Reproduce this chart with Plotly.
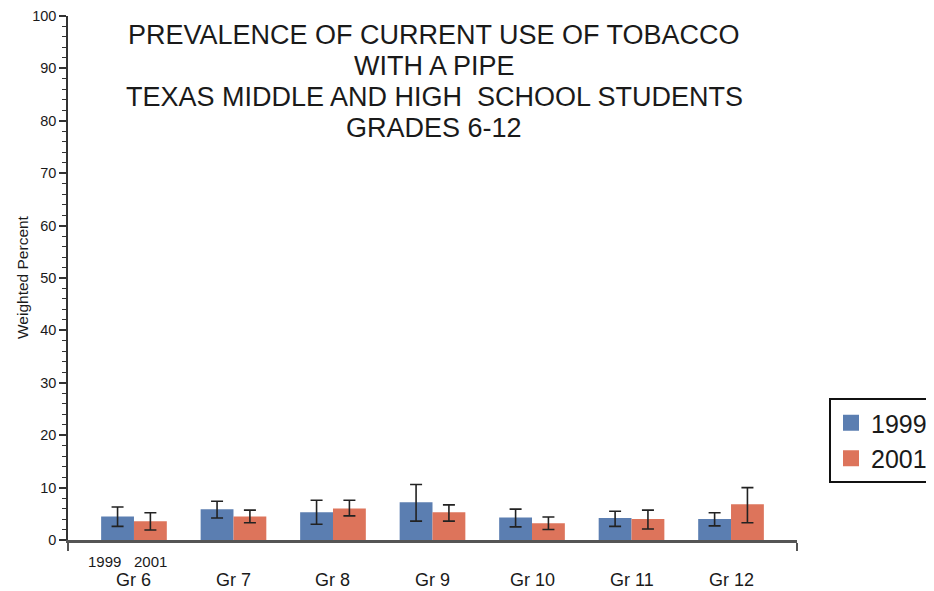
import plotly.graph_objects as go

grades = ["Gr 6", "Gr 7", "Gr 8", "Gr 9", "Gr 10", "Gr 11", "Gr 12"]
years = ["1999", "2001"]

val_1999 = [4.5, 5.85, 5.3, 7.2, 4.3, 4.2, 4.0]
hi_1999 = [6.3, 7.4, 7.6, 10.6, 5.9, 5.5, 5.2]
lo_1999 = [2.6, 4.2, 3.0, 3.6, 2.5, 2.6, 2.7]

val_2001 = [3.6, 4.5, 6.0, 5.3, 3.2, 4.0, 6.8]
hi_2001 = [5.2, 5.7, 7.6, 6.7, 4.4, 5.7, 10.0]
lo_2001 = [1.9, 3.3, 4.6, 3.6, 2.0, 2.1, 3.3]

title_lines = [
    "PREVALENCE OF CURRENT USE OF TOBACCO",
    "WITH A PIPE",
    "TEXAS MIDDLE AND HIGH  SCHOOL STUDENTS",
    "GRADES 6-12",
]

colors = {"1999": "#5b7eb1", "2001": "#dd745b"}
FONT = "Liberation Sans, Arial, sans-serif"

# page body has an 8px margin; lay out in page pixels and compensate
OFF = 8
W, H = 934 - OFF, 591 - OFF
X0, X1 = 68, 797      # plot area left/right (page px)
Y0, Y1 = 16, 540      # plot area top/bottom (page px)
L, T = X0 - OFF, Y0 - OFF
PW, PH = X1 - X0, Y1 - Y0
R, B = W - L - PW, H - T - PH

def py(ypix):
    return (Y1 - ypix) / PH

def px(xpix):
    return (xpix - X0) / PW

x = list(range(len(grades)))
fig = go.Figure()
for yr, vals, hi, lo in [("1999", val_1999, hi_1999, lo_1999), ("2001", val_2001, hi_2001, lo_2001)]:
    fig.add_trace(go.Bar(
        x=x, y=vals, name=yr, showlegend=False,
        marker=dict(color=colors[yr], line=dict(width=0)),
        error_y=dict(type="data", symmetric=False,
                     array=[h - v for h, v in zip(hi, vals)],
                     arrayminus=[v - l for l, v in zip(lo, vals)],
                     color="#222222", thickness=1.6, width=6),
    ))
# legend entries (bigger square swatches)
for yr in years:
    fig.add_trace(go.Scatter(x=[None], y=[None], name=yr, mode="markers",
                             marker=dict(symbol="square", size=20, color=colors[yr]),
                             showlegend=True))

ann = []
for i, line in enumerate(title_lines):
    ann.append(dict(text=line, x=px(434), y=py(35 + 31 * i), xref="paper", yref="paper",
                    xanchor="center", yanchor="middle", showarrow=False,
                    font=dict(family=FONT, size=27, color="#1a1a1a")))
for i, g in enumerate(grades):
    ann.append(dict(text=g, x=i, y=py(580), xref="x", yref="paper",
                    xanchor="center", yanchor="middle", showarrow=False,
                    font=dict(family=FONT, size=18, color="#1a1a1a")))
for j, yr in enumerate(years):
    ann.append(dict(text=yr, x=[-0.3, 0.17][j], y=py(561), xref="x", yref="paper",
                    xanchor="center", yanchor="middle", showarrow=False,
                    font=dict(family=FONT, size=15, color="#1a1a1a")))
ann.append(dict(text="Weighted Percent", x=px(22), y=py(277), xref="paper", yref="paper",
                textangle=-90, xanchor="center", yanchor="middle", showarrow=False,
                font=dict(family=FONT, size=15.5, color="#1a1a1a")))

xr = [-0.663, 6.663]
fig.update_layout(
    width=W, height=H,
    margin=dict(l=L, r=R, t=T, b=B, autoexpand=False),
    paper_bgcolor="white", plot_bgcolor="white",
    barmode="group", bargap=0.34, bargroupgap=0,
    font=dict(family=FONT, color="#1a1a1a"),
    showlegend=True,
    legend=dict(x=px(829), y=py(398), xanchor="left", yanchor="top",
                bordercolor="#111111", borderwidth=2,
                font=dict(family=FONT, size=25, color="#1a1a1a"),
                bgcolor="white", tracegroupgap=0, itemwidth=30),
    annotations=ann,
    xaxis=dict(range=xr, tickmode="array", tickvals=xr, ticktext=["", ""],
               ticks="outside", ticklen=8, tickwidth=2, tickcolor="#555555",
               showline=True, linecolor="#555555", linewidth=2.5,
               showgrid=False, zeroline=False, automargin=False),
    yaxis=dict(range=[0, 100], tickmode="linear", tick0=0, dtick=10,
               ticks="outside", ticklen=7, tickwidth=1.5, tickcolor="#333333",
               minor=dict(dtick=2, ticks="outside", ticklen=4, tickwidth=1.2, tickcolor="#333333"),
               showline=True, linecolor="#333333", linewidth=1.5,
               showgrid=False, zeroline=False, automargin=False,
               ticklabeloverflow="allow",
               tickfont=dict(family=FONT, size=14.5, color="#1a1a1a")),
)

fig.write_html("out.html")
